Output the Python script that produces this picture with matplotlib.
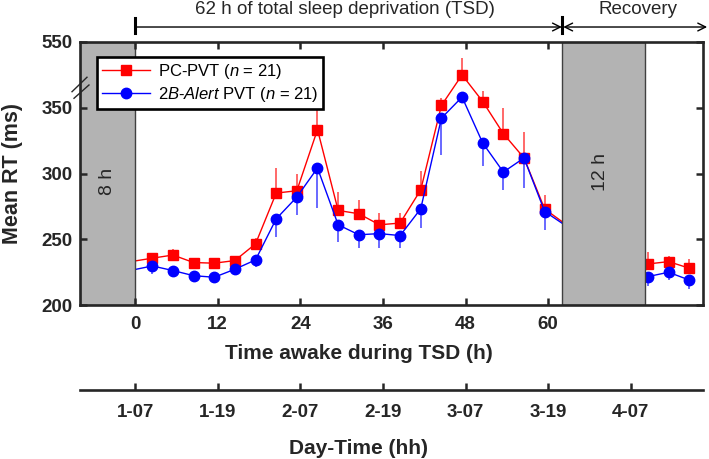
import numpy as np
import matplotlib
matplotlib.use("Agg")
import matplotlib.pyplot as plt

plt.rcParams['font.family'] = ['Liberation Sans', 'DejaVu Sans']
plt.rcParams['mathtext.fontset'] = 'custom'
plt.rcParams['mathtext.rm'] = 'Liberation Sans'
plt.rcParams['mathtext.it'] = 'Liberation Sans:italic'

# time awake (h) of each PVT session during TSD
tsd_h = [2.5, 5.5, 8.5, 11.5, 14.5, 17.5, 20.5, 23.5, 26.5, 29.5,
         32.5, 35.5, 38.5, 41.5, 44.5, 47.5, 50.5, 53.5, 56.5, 59.5]
pc_rt = [235.6, 238.0, 232.3, 231.8, 233.8, 246.5, 285.1, 286.9, 333.4, 271.9,
         269.4, 261.0, 262.3, 287.6, 357.0, 450.0, 369.0, 330.3, 311.8, 273.0]
pc_top = [239.9, 242.4, 235.6, 234.3, 237.3, 250.8, 304.0, 300.0, 359.0, 286.0,
          280.0, 270.0, 270.0, 301.6, 380.0, 502.0, 400.0, 350.0, 331.4, 283.8]
ba_rt = [229.7, 226.2, 222.3, 221.1, 227.2, 234.3, 265.5, 282.1, 304.2, 261.0,
         253.4, 254.3, 252.8, 273.2, 342.1, 382.6, 323.2, 301.1, 311.8, 271.1]
ba_low = [223.6, 221.6, 218.5, 216.5, 222.9, 228.7, 252.0, 268.6, 274.0, 248.0,
          243.0, 243.4, 243.4, 258.5, 314.3, 364.0, 305.4, 287.7, 288.9, 257.2]
# line ends at the sleep blocks
edge_h = [0, 62]
pc_edge = [233.5, 263.5]
ba_edge = [227.0, 262.3]

# recovery sessions
rec_h = [74.5, 77.5, 80.5]
pc_rec = [231.2, 233.0, 228.0]
pc_rec_top = [240.6, 237.3, 234.8]
ba_rec = [221.6, 224.9, 219.0]
ba_rec_low = [214.5, 219.0, 212.0]

x_ticks = [0, 12, 24, 36, 48, 60]
day_ticks = [0, 12, 24, 36, 48, 60, 72]
day_labels = ['1-07', '1-19', '2-07', '2-19', '3-07', '3-19', '4-07']
y_ticks = [200, 250, 300, 350, 550]


def fwd(y):
    y = np.asarray(y, float)
    return np.where(y <= 350, y, 350 + (y - 350) / 4.0)


def inv(t):
    t = np.asarray(t, float)
    return np.where(t <= 350, t, 350 + (t - 350) * 4.0)


dark = '#262626'
red = '#ff0000'
blue = '#0000ff'

fig = plt.figure(figsize=(7.09, 4.59), dpi=100)
ax = fig.add_axes([80 / 709, 1 - 305 / 459, 623 / 709, 263 / 459])
ax.set_yscale('function', functions=(fwd, inv))

pc_x = [edge_h[0]] + tsd_h + [edge_h[1]]
pc_y = [pc_edge[0]] + pc_rt + [pc_edge[1]]
ba_y = [ba_edge[0]] + ba_rt + [ba_edge[1]]
mk = list(range(1, len(tsd_h) + 1))

ax.errorbar(tsd_h, pc_rt, yerr=[np.zeros(len(pc_rt)), np.array(pc_top) - np.array(pc_rt)],
            fmt='none', ecolor=red, elinewidth=1.1, alpha=0.75, capsize=0, zorder=1.8)
ax.errorbar(tsd_h, ba_rt, yerr=[np.array(ba_rt) - np.array(ba_low), np.zeros(len(ba_rt))],
            fmt='none', ecolor=blue, elinewidth=1.1, alpha=0.75, capsize=0, zorder=1.8)
ax.errorbar(rec_h, pc_rec, yerr=[np.zeros(3), np.array(pc_rec_top) - np.array(pc_rec)],
            fmt='none', ecolor=red, elinewidth=1.1, alpha=0.75, capsize=0, zorder=1.8)
ax.errorbar(rec_h, ba_rec, yerr=[np.array(ba_rec) - np.array(ba_rec_low), np.zeros(3)],
            fmt='none', ecolor=blue, elinewidth=1.1, alpha=0.75, capsize=0, zorder=1.8)

l1, = ax.plot(pc_x, pc_y, color=red, lw=1.0, marker='s', ms=7, markevery=mk, zorder=2)
l2, = ax.plot(pc_x, ba_y, color=blue, lw=1.0, marker='o', ms=7.5, markevery=mk, zorder=2.1)
ax.plot(rec_h, pc_rec, color=red, lw=1.0, marker='s', ms=7, zorder=2)
ax.plot(rec_h, ba_rec, color=blue, lw=1.0, marker='o', ms=7.5, zorder=2.1)

# sleep periods
ax.axvspan(-8, 0, facecolor='#b3b3b3', edgecolor='#404040', lw=1, zorder=3)
ax.axvspan(62, 74.1, facecolor='#b3b3b3', edgecolor='#404040', lw=1, zorder=3)
ax.text(-4, 293.7, '8 h', rotation=90, ha='center', va='center', fontsize=14, color=dark, zorder=4)
ax.text(67.6, 301, '12 h', rotation=90, ha='center', va='center', fontsize=14, color=dark, zorder=4)

ax.set_xlim(-8, 82.5)
ax.set_ylim(200, 550)
ax.set_xticks(x_ticks)
ax.set_xticklabels([str(t) for t in x_ticks])
ax.set_yticks(y_ticks)
ax.set_yticklabels([str(t) for t in y_ticks])
ax.minorticks_off()
for lab in ax.get_xticklabels() + ax.get_yticklabels():
    lab.set_fontweight('bold')
ax.tick_params(axis='both', direction='in', length=5, width=1.8, colors=dark,
               labelsize=13.5, top=True, right=True)
ax.tick_params(axis='x', pad=8)
ax.tick_params(axis='y', pad=5.5)
for sp in ax.spines.values():
    sp.set_linewidth(1.9)
    sp.set_color(dark)
    sp.set_zorder(4.5)
ax.xaxis.set_zorder(4.5)
ax.yaxis.set_zorder(4.5)

ax.set_xlabel('Time awake during TSD (h)', fontsize=15, fontweight='bold', color=dark)
ax.xaxis.set_label_coords(0.447, -0.148)
ax.set_ylabel('Mean RT (ms)', fontsize=15.5, fontweight='bold', color=dark)
ax.yaxis.set_label_coords(-0.0915, 0.5)

# axis break marks
for (xa, ya, xb, yb) in [(-0.0128, 0.811, 0.0112, 0.866), (-0.0096, 0.786, 0.0144, 0.8365)]:
    ax.plot([xa, xb], [ya, yb], transform=ax.transAxes, color=dark, lw=1, clip_on=False, zorder=5)

leg = ax.legend([l1, l2], [r'PC-PVT ($\it{n}$ = 21)', r'$\it{2B}$-$\it{Alert}$ PVT ($\it{n}$ = 21)'],
                loc='upper left', bbox_to_anchor=(0.027, 0.943), borderaxespad=0,
                fontsize=12, handlelength=2.9, handletextpad=0.45, borderpad=0.3,
                labelspacing=0.25, fancybox=False, framealpha=1, edgecolor='black')
leg.get_frame().set_linewidth(1.9)
leg.set_zorder(6)

# top annotations
tr = ax.get_xaxis_transform()
ax.annotate('', xy=(62, 1.057), xytext=(0, 1.057), xycoords=tr, textcoords=tr,
            arrowprops=dict(arrowstyle='->', lw=1, color='black', shrinkA=0, shrinkB=0,
                            mutation_scale=14), annotation_clip=False)
ax.annotate('', xy=(83.1, 1.057), xytext=(62.2, 1.057), xycoords=tr, textcoords=tr,
            arrowprops=dict(arrowstyle='<->', lw=1, color='black', shrinkA=0, shrinkB=0,
                            mutation_scale=14), annotation_clip=False)
ax.plot([0, 0], [1.034, 1.091], transform=tr, color='black', lw=2.2, clip_on=False)
ax.plot([62, 62], [1.034, 1.095], transform=tr, color='black', lw=2.2, clip_on=False)
ax.text(30.5, 1.122, '62 h of total sleep deprivation (TSD)', transform=tr, ha='center',
        va='center', fontsize=13.5, color=dark)
ax.text(73, 1.122, 'Recovery', transform=tr, ha='center', va='center', fontsize=13.5, color=dark)

# clock-time axis
ax2 = fig.add_axes([80 / 709, 1 - 390 / 459, 623 / 709, 0.0001])
ax2.set_xlim(-8, 82.5)
ax2.patch.set_visible(False)
for s in ['left', 'right', 'top']:
    ax2.spines[s].set_visible(False)
ax2.spines['bottom'].set_linewidth(1.9)
ax2.spines['bottom'].set_color(dark)
ax2.set_yticks([])
ax2.set_xticks(day_ticks)
ax2.set_xticklabels(day_labels)
for lab in ax2.get_xticklabels():
    lab.set_fontweight('bold')
ax2.tick_params(axis='x', direction='in', length=5, width=1.8, colors=dark, labelsize=13.5, pad=10)
fig.text(358.5 / 709, 1 - 448 / 459, 'Day-Time (hh)', ha='center', va='center',
         fontsize=15, fontweight='bold', color=dark)

fig.savefig('out.png', dpi=100)
